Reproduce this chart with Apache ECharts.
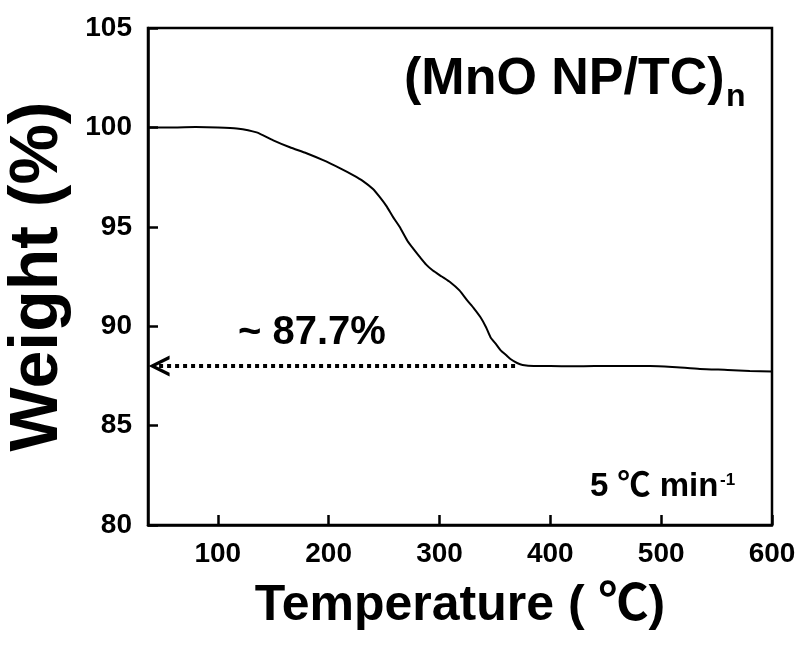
<!DOCTYPE html>
<html>
<head>
<meta charset="utf-8">
<script src="https://cdn.jsdelivr.net/npm/echarts@6/dist/echarts.min.js"></script>
<style>
  html, body { margin: 0; padding: 0; background: #fff; }
  #chart { width: 801px; height: 653px; }
</style>
</head>
<body>
<div id="chart"></div>
<script>
// TGA trace
const temps = [37, 60, 80, 100, 117, 135, 150, 165, 180, 195, 210, 222, 231, 240, 246, 252, 258, 264,
  271, 277, 282, 288, 294, 302, 310, 318, 325, 331, 337, 342, 346, 351, 355, 360, 364, 370, 375,
  385, 400, 420, 440, 460, 490, 510, 535, 560, 580, 600]
const weights = [100.0, 100.0, 100.02, 100.0, 99.95, 99.75, 99.35, 99.0, 98.7, 98.35, 97.95, 97.6, 97.3,
  96.9, 96.5, 96.05, 95.5, 95.0, 94.3, 93.85, 93.5, 93.1, 92.8, 92.5, 92.2, 91.8, 91.3, 90.9, 90.45,
  89.95, 89.45, 89.1, 88.8, 88.55, 88.35, 88.15, 88.05, 88.0, 88.0, 87.98, 88.0, 88.0, 88.0, 87.95,
  87.85, 87.8, 87.75, 87.72]

const xTicks = [100, 200, 300, 400, 500, 600]
const residue = 88          // height of the dotted arrow
const arrowFrom = 47        // temperature where the arrow head sits
const arrowTo = 370         // temperature where the dotted line ends

const FONT = '"Liberation Sans", Arial, "Noto Sans CJK KR", sans-serif'
const INK = '#000'

const chart = echarts.init(document.getElementById('chart'))

chart.setOption({
  animation: false,
  backgroundColor: '#fff',
  grid: {
    left: 148, right: 29, top: 28, bottom: 128,
    outerBoundsMode: 'none',
    show: true, borderColor: INK, borderWidth: 2.5
  },
  xAxis: {
    type: 'value',
    min: 37,
    max: 600,
    name: 'Temperature ( \u2103)',
    nameLocation: 'middle',
    nameGap: 56,
    nameTextStyle: { fontFamily: FONT, fontWeight: 'bold', fontSize: 50, color: INK },
    axisLine: { lineStyle: { color: INK, width: 2.5 } },
    axisTick: { inside: true, length: 10, lineStyle: { color: INK, width: 2.5 }, customValues: xTicks },
    axisLabel: { fontFamily: FONT, fontWeight: 'bold', fontSize: 28, color: INK, margin: 15, customValues: xTicks },
    splitLine: { show: false }
  },
  yAxis: {
    type: 'value',
    min: 80,
    max: 105,
    interval: 5,
    name: 'Weight (%)',
    nameLocation: 'middle',
    nameGap: 76,
    nameTextStyle: { fontFamily: FONT, fontWeight: 'bold', fontSize: 68, color: INK },
    axisLine: { show: true, lineStyle: { color: INK, width: 2.5 } },
    axisTick: { inside: true, length: 10, lineStyle: { color: INK, width: 2.5 } },
    axisLabel: { fontFamily: FONT, fontWeight: 'bold', fontSize: 28, color: INK, margin: 16 },
    splitLine: { show: false }
  },
  series: [{
    type: 'line',
    data: temps.map((t, i) => [t, weights[i]]),
    showSymbol: false,
    smooth: 0.2,
    lineStyle: { color: INK, width: 2 },
    silent: true,
    markLine: {
      silent: true,
      label: { show: false },
      lineStyle: { color: INK, width: 4, type: [4, 4] },
      data: [[
        { coord: [arrowFrom, residue], symbol: 'path://M0,20 L10,0 L20,20 L16.5,20 L10,7 L3.5,20 Z', symbolSize: 21 },
        { coord: [arrowTo, residue], symbol: 'none' }
      ]]
    }
  }],
  graphic: [
    { type: 'text', left: 404, top: 54, style: { text: '(MnO NP/TC)', font: 'bold 52px ' + FONT, fill: INK } },
    { type: 'text', left: 726, top: 81, style: { text: 'n', font: 'bold 32px ' + FONT, fill: INK } },
    { type: 'text', left: 238, top: 313, style: { text: '~ 87.7%', font: 'bold 40px ' + FONT, fill: INK } },
    { type: 'text', left: 590, top: 470, style: { text: '5 \u2103 min', font: 'bold 33px ' + FONT, fill: INK } },
    { type: 'text', left: 720, top: 472, style: { text: '-1', font: 'bold 17px ' + FONT, fill: INK } }
  ]
})
</script>
</body>
</html>
